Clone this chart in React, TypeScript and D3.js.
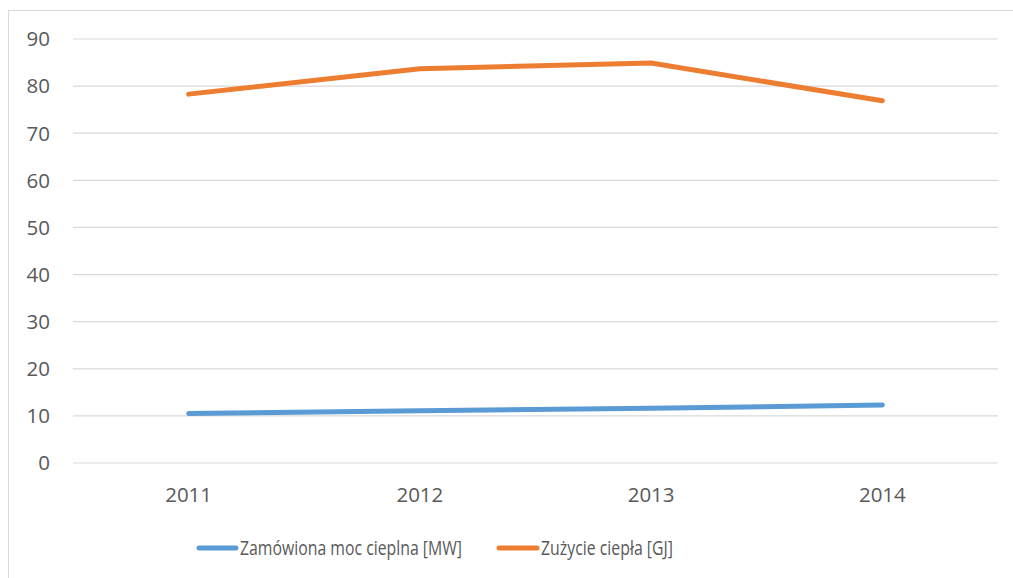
import React from "react";
import * as d3 from "d3";

const years = ["2011", "2012", "2013", "2014"];
const mocValues = [10.5, 11.1, 11.6, 12.3];
const zuzycieValues = [78.3, 83.7, 84.9, 76.9];
const yTicks = [0, 10, 20, 30, 40, 50, 60, 70, 80, 90];
const seriesNames = ["Zamówiona moc cieplna [MW]", "Zużycie ciepła [GJ]"];
const seriesColors = ["#5B9BD5", "#ED7D31"];

const W = 1013;
const H = 578;
const left = 73;
const right = 998;
const top = 39;
const bottom = 463;

export default function App() {
  const x = d3.scaleBand<string>().domain(years).range([left, right]);
  const y = d3.scaleLinear().domain([0, 90]).range([bottom, top]);
  const line = d3
    .line<number>()
    .x((_, i) => (x(years[i]) as number) + x.bandwidth() / 2)
    .y((d) => y(d));
  const series = [mocValues, zuzycieValues];
  const font = "'Open Sans', 'Noto Sans', sans-serif";
  const textColor = "#595959";
  const legendItems = [
    { x1: 199, x2: 236, tx: 240, len: 222 },
    { x1: 499, x2: 537, tx: 541, len: 132 },
  ];
  return (
    <svg
      width={W}
      height={H}
      style={{ position: "absolute", left: 0, top: 0, background: "#fff" }}
      fontFamily={font}
    >
      <rect x={8.5} y={10.5} width={1100} height={700} fill="#fff" stroke="#D9D9D9" strokeWidth={1} />
      {yTicks.map((t) => (
        <g key={t}>
          <line x1={left} x2={right} y1={y(t)} y2={y(t)} stroke="#D9D9D9" strokeWidth={1.2} />
          <text x={50} y={y(t)} dy="0.36em" textAnchor="end" fontSize={20.5} fill={textColor}>
            {t}
          </text>
        </g>
      ))}
      {years.map((yr) => (
        <text
          key={yr}
          x={(x(yr) as number) + x.bandwidth() / 2}
          y={502}
          textAnchor="middle"
          fontSize={20.5}
          fill={textColor}
        >
          {yr}
        </text>
      ))}
      {series.map((s, i) => (
        <path
          key={i}
          d={line(s) || ""}
          fill="none"
          stroke={seriesColors[i]}
          strokeWidth={5}
          strokeLinecap="round"
          strokeLinejoin="round"
        />
      ))}
      {legendItems.map((it, i) => (
        <g key={i}>
          <line x1={it.x1} x2={it.x2} y1={548} y2={548} stroke={seriesColors[i]} strokeWidth={5} strokeLinecap="round" />
          <text
            x={it.tx}
            y={548}
            dy="0.36em"
            fontSize={20.5}
            fill={textColor}
            textLength={it.len}
            lengthAdjust="spacingAndGlyphs"
          >
            {seriesNames[i]}
          </text>
        </g>
      ))}
    </svg>
  );
}
